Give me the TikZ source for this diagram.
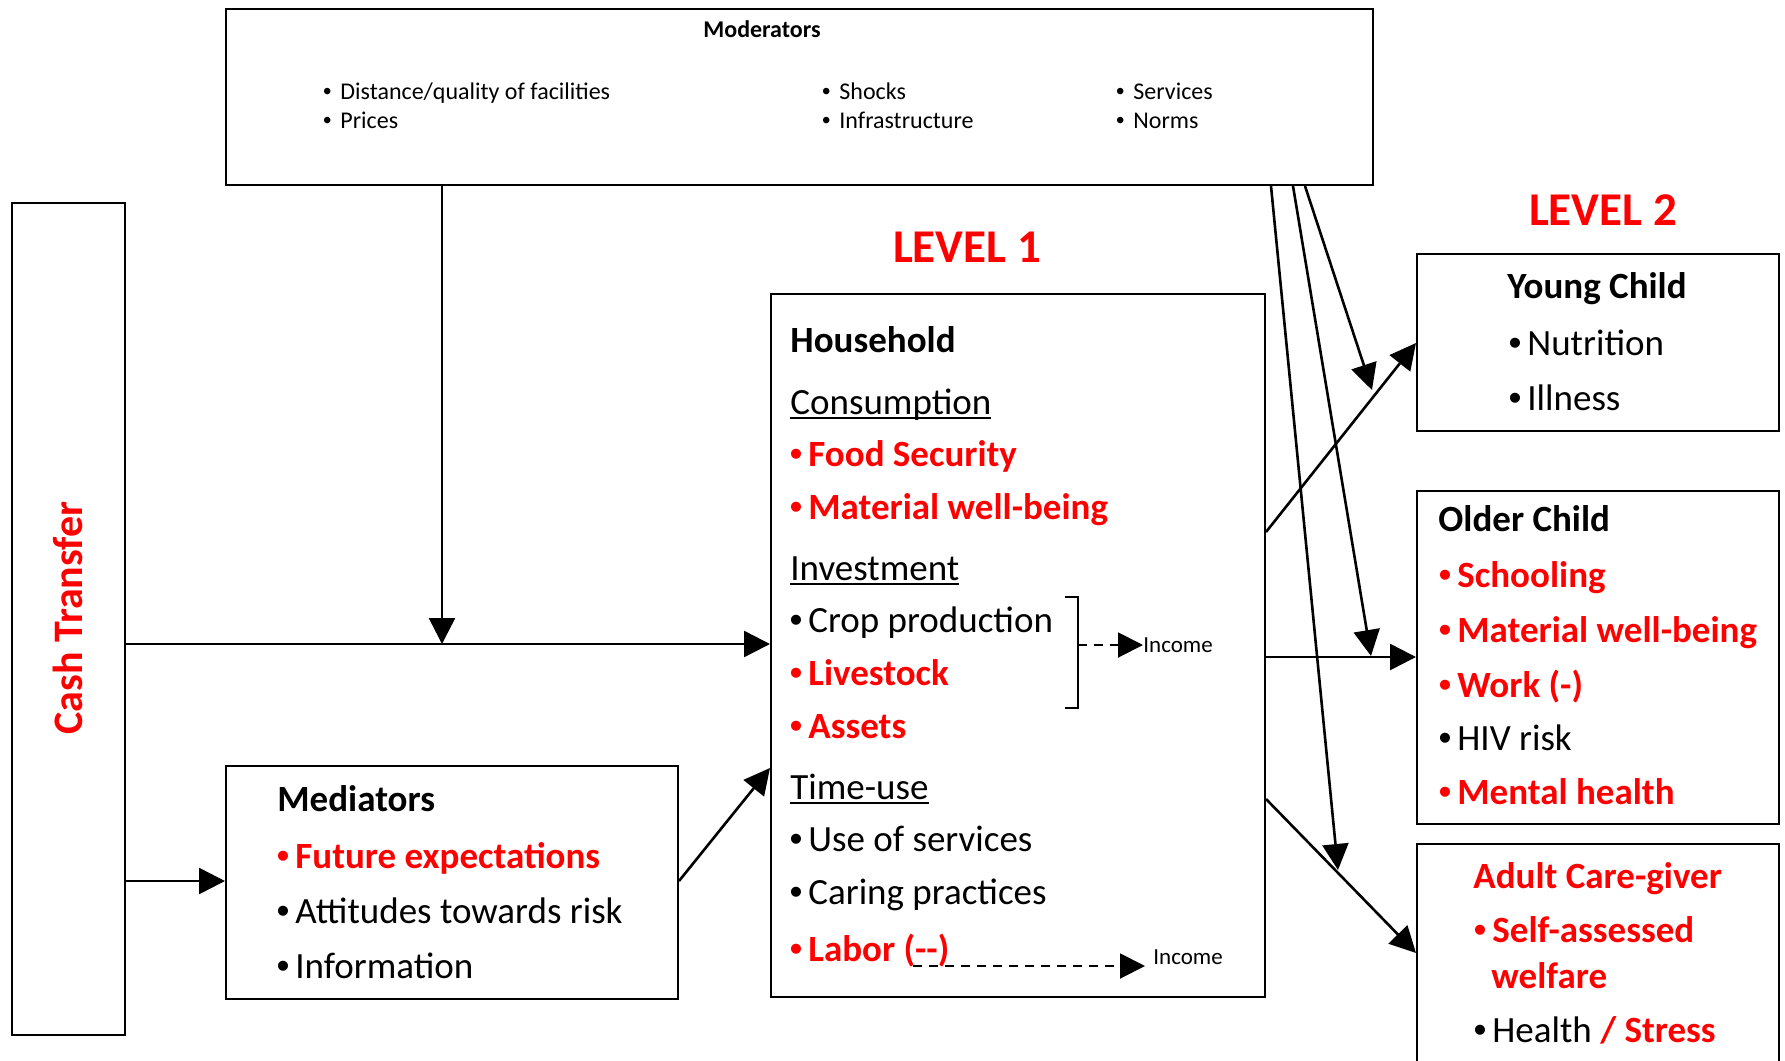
\documentclass[tikz,border=0pt]{standalone}
\usepackage{fontspec}
\setmainfont{Carlito}
\newfontfamily\bulfont{Liberation Sans}
\usetikzlibrary{arrows.meta}
\definecolor{hot}{RGB}{255,0,0}

% font size helper
\newcommand\fsz[1]{\fontsize{#1}{#1}\selectfont}
% underline sitting just below the baseline
\newcommand\ulx[1]{\setbox0=\hbox{#1}\rlap{\rule[-2.4pt]{\wd0}{1pt}}\box0}
% hanging bullets
\newcommand\itembul{\makebox[8.5pt][l]{\hspace{-0.9pt}{\bulfont\mdseries •}}}
\newcommand\modbul{\makebox[8pt][l]{\hspace{-0.6pt}{\bulfont •}}}

\tikzset{
  box/.style={draw, line width=1pt, inner sep=0pt, anchor=north west},
  txt/.style={inner sep=0pt, anchor=base west, font=\fsz{18.5}},
  hdr/.style={txt, font=\fsz{18.5}\bfseries},
  hit/.style={txt, text=hot, font=\fsz{18.5}\bfseries},
  modtxt/.style={inner sep=0pt, anchor=base west, font=\fsz{12}},
  lvl/.style={inner sep=0pt, text=hot, font=\fsz{23.5}\bfseries},
  inc/.style={inner sep=0pt, anchor=base west, font=\fsz{11.5}},
  arr/.style={line width=1.3pt, -{Triangle[length=13pt,width=13pt]}},
  darr/.style={line width=1pt, dash pattern=on 4.5pt off 3.5pt,
               -{Triangle[length=12.5pt,width=12.5pt]}},
}

\begin{document}
\begin{tikzpicture}[x=0.5pt, y=-0.5pt]
\useasboundingbox (0,0) rectangle (1785,1061);
\clip (0,0) rectangle (1785,1061);

% ---------------- boxes ----------------
\node[box, minimum width=573.5pt, minimum height=88pt]  (mod) at (225,8) {};
\node[box, minimum width=56.5pt,  minimum height=416pt] (ct)  at (11,202) {};
\node[box, minimum width=247pt,   minimum height=351.5pt] (hh) at (770,293) {};
\node[box, minimum width=226pt,   minimum height=116.5pt] (med) at (225,765) {};
\node[box, minimum width=181pt,   minimum height=88.5pt] (yc) at (1416,253) {};
\node[box, minimum width=181pt,   minimum height=166.5pt] (oc) at (1416,490) {};
\node[box, minimum width=181pt,   minimum height=130pt] (ad) at (1416,843) {};

% ---------------- moderators ----------------
\node[inner sep=0pt, anchor=base, font=\fsz{12}\bfseries] (modt) at (762,37) {Moderators};
\node[modtxt] (m1) at (324,99)  {\modbul Distance/quality of facilities};
\node[modtxt] (m2) at (324,128) {\modbul Prices};
\node[modtxt] (m3) at (823,99)  {\modbul Shocks};
\node[modtxt] (m4) at (823,128) {\modbul Infrastructure};
\node[modtxt] (m5) at (1117,99) {\modbul Services};
\node[modtxt] (m6) at (1117,128) {\modbul Norms};

% ---------------- cash transfer ----------------
\node[inner sep=0pt, rotate=90, text=hot, font=\fsz{21}\bfseries] (ctt) at (68,618) {Cash Transfer};

% ---------------- level labels ----------------
\node[lvl] (l1) at (967,247) {LEVEL 1};
\node[lvl] (l2) at (1603,210) {LEVEL 2};

% ---------------- household ----------------
\node[hdr] (hht) at (790,352) {Household};
\node[txt] (c0) at (790,414) {\ulx{Consumption}};
\node[hit] (c1) at (791,466) {\itembul Food Security};
\node[hit] (c2) at (791,519) {\itembul Material well-being};
\node[txt] (i0) at (790,580) {\ulx{Investment}};
\node[txt] (i1) at (791,632) {\itembul Crop production};
\node[hit] (i2) at (791,685) {\itembul Livestock};
\node[hit] (i3) at (791,738) {\itembul Assets};
\node[txt] (t0) at (790,799) {\ulx{Time-use}};
\node[txt] (t1) at (791,851) {\itembul Use of services};
\node[txt] (t2) at (791,904) {\itembul Caring practices};
\node[hit] (t3) at (791,961) {\itembul Labor (-{}-)};

% bracket round the productive investments, with income flows
\draw[line width=1.2pt] (1065,597) -- (1078,597) -- (1078,708) -- (1065,708);
\coordinate (brk) at (1078,645);
\node[inc] (inc1) at (1143,652) {Income};
\draw[darr] (brk) -- (inc1.west |- brk);
\coordinate (lab) at (913,966);
\node[inc] (inc2) at (1153,964) {Income};
\draw[darr, shorten >=4pt] (lab) -- (inc2.west |- lab);

% ---------------- mediators ----------------
\node[hdr] (medt) at (277,811) {Mediators};
\node[hit] (d1) at (278,868) {\itembul Future expectations};
\node[txt] (d2) at (278,923) {\itembul Attitudes towards risk};
\node[txt] (d3) at (278,978) {\itembul Information};

% ---------------- level 2 outcomes ----------------
\node[hdr, anchor=base] (yct) at (1597,298) {Young Child};
\node[txt] (y1) at (1510,355) {\itembul Nutrition};
\node[txt] (y2) at (1510,410) {\itembul Illness};

\node[hdr] (oct) at (1438,531) {Older Child};
\node[hit] (o1) at (1440,587) {\itembul Schooling};
\node[hit] (o2) at (1440,642) {\itembul Material well-being};
\node[hit] (o3) at (1440,697) {\itembul Work (-)};
\node[txt] (o4) at (1440,750) {\itembul HIV risk};
\node[hit] (o5) at (1440,804) {\itembul Mental health};

\node[hit] (adt) at (1473,888) {Adult Care-giver};
\node[hit] (a1) at (1475,942) {\itembul Self-assessed};
\node[hit] (a2) at (1491,988) {welfare};
\node[txt] (a3) at (1475,1042) {\itembul Health \textcolor{hot}{\bfseries / Stress}};

% ---------------- connectors ----------------
\coordinate (jn) at (442,644);
\draw[arr] (mod.south -| jn) -- (jn);
\draw[arr] (ct.east |- jn) -- (hh.west |- jn);

\coordinate (mrow) at (0,881);
\coordinate (hin) at (0,768);
\draw[arr] (ct.east |- mrow) -- (med.west |- mrow);
\draw[arr] (med.east |- mrow) -- (hh.west |- hin);

\coordinate (r1) at (0,532);
\coordinate (r2) at (0,343);
\coordinate (r3) at (0,657);
\coordinate (r4) at (0,799);
\coordinate (r5) at (0,953);
\draw[arr] (hh.east |- r1) -- (yc.west |- r2);
\draw[arr] (hh.east |- r3) -- (oc.west |- r3);
\draw[arr] (hh.east |- r4) -- (ad.west |- r5);

% moderators acting on level 2
\coordinate (s1) at (1271,0);
\coordinate (s2) at (1293,0);
\coordinate (s3) at (1305,0);
\coordinate (e1) at (1338,870);
\coordinate (e2) at (1371,656);
\coordinate (e3) at (1372,390);
\draw[arr] (mod.south -| s1) -- (e1);
\draw[arr] (mod.south -| s2) -- (e2);
\draw[arr] (mod.south -| s3) -- (e3);
\end{tikzpicture}
\end{document}
